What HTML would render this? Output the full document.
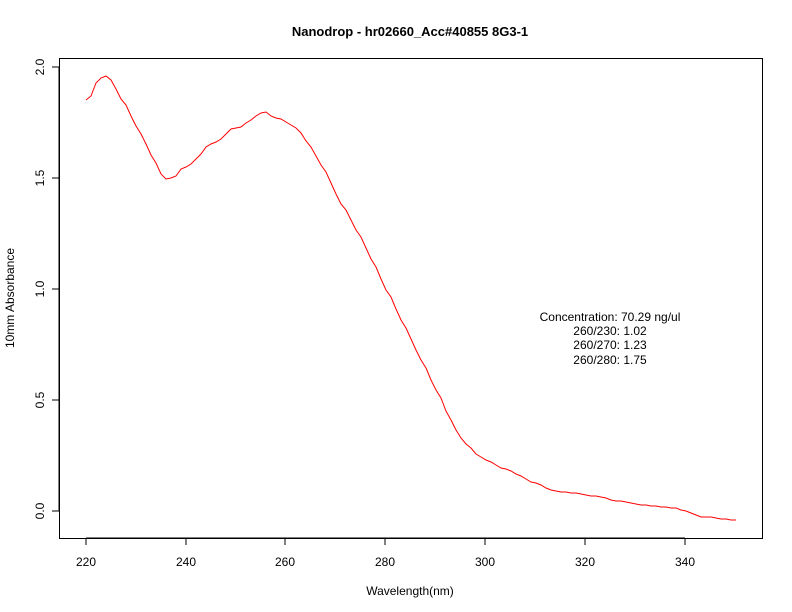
<!DOCTYPE html>
<html><head><meta charset="utf-8"><style>body{margin:0;background:#fff}svg{display:block}</style></head><body>
<svg width="792" height="612" xmlns="http://www.w3.org/2000/svg" font-family="Liberation Sans, sans-serif">
<rect width="792" height="612" fill="#fff"/>
<text x="410" y="36" text-anchor="middle" font-size="13" font-weight="bold">Nanodrop - hr02660_Acc#40855 8G3-1</text>
<rect x="59.5" y="58.5" width="703" height="480" fill="none" stroke="#000"/>
<g stroke="#000">
<line x1="86" y1="538" x2="685" y2="538"/>
<line x1="86" y1="538" x2="86" y2="545"/><line x1="186" y1="538" x2="186" y2="545"/><line x1="285" y1="538" x2="285" y2="545"/><line x1="385" y1="538" x2="385" y2="545"/><line x1="485" y1="538" x2="485" y2="545"/><line x1="585" y1="538" x2="585" y2="545"/><line x1="685" y1="538" x2="685" y2="545"/>
<line x1="59" y1="67" x2="59" y2="511"/>
<line x1="52" y1="67" x2="59" y2="67"/><line x1="52" y1="178" x2="59" y2="178"/><line x1="52" y1="289" x2="59" y2="289"/><line x1="52" y1="400" x2="59" y2="400"/><line x1="52" y1="511" x2="59" y2="511"/>
</g>
<g font-size="12" text-anchor="middle">
<text x="86" y="566">220</text><text x="186" y="566">240</text><text x="285" y="566">260</text><text x="385" y="566">280</text><text x="485" y="566">300</text><text x="585" y="566">320</text><text x="685" y="566">340</text>
<text transform="translate(44,67) rotate(-90)">2.0</text>
<text transform="translate(44,178) rotate(-90)">1.5</text>
<text transform="translate(44,289) rotate(-90)">1.0</text>
<text transform="translate(44,400) rotate(-90)">0.5</text>
<text transform="translate(44,511) rotate(-90)">0.0</text>
<text x="410" y="595">Wavelength(nm)</text>
<text transform="translate(14,298) rotate(-90)">10mm Absorbance</text>
<text x="610" y="321">Concentration: 70.29 ng/ul</text>
<text x="610" y="335">260/230: 1.02</text>
<text x="610" y="349">260/270: 1.23</text>
<text x="610" y="364">260/280: 1.75</text>
</g>
<polyline fill="none" stroke="#f00" stroke-width="1" points="86,100 91,96 96,83 101,78 106,76 111,80 116,89 121,99 126,105 131,116 136,126 141,134 146,144 151,155 156,163 161,174 166,179 171,178 176,176 181,169 186,167 191,164 196,159 201,154 206,147 211,144 216,142 221,139 226,134 231,129 236,128 241,127 246,123 251,120 256,116 261,113 266,112 271,116 276,118 281,119 286,122 291,125 296,128 301,133 306,141 311,147 316,156 321,165 326,172 331,183 336,194 341,204 346,210 351,220 356,230 361,237 366,248 371,259 376,267 381,279 386,290 391,297 396,309 401,320 406,328 411,339 416,350 421,360 426,368 431,380 436,390 441,398 446,411 451,420 456,430 461,438 466,444 471,448 476,454 481,457 486,460 491,462 496,465 501,468 506,469 511,471 516,474 521,476 526,479 531,482 536,483 541,485 546,488 551,490 556,491 561,492 566,492 571,493 576,493 581,494 586,495 591,496 596,496 601,497 606,498 611,500 616,501 621,501 626,502 631,503 636,504 641,505 646,505 651,506 656,506 661,507 666,507 671,508 676,508 681,510 686,511 691,513 696,515 701,517 706,517 711,517 716,518 721,519 726,519 731,520 736,520"/>
</svg>
</body></html>
